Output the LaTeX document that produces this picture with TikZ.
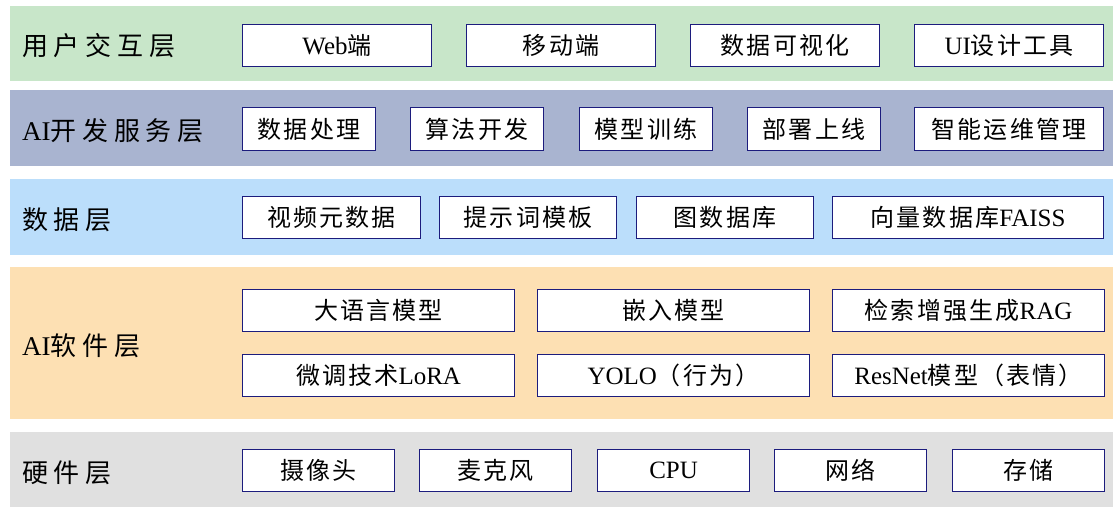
\documentclass[tikz,border=0pt]{standalone}
\usepackage{fontspec}
\setmainfont{Liberation Serif}[Scale=1.04]
\newfontfamily\cjkbox[LetterSpace=9]{Noto Sans CJK SC}
\newfontfamily\cjklab[LetterSpace=22]{Noto Sans CJK SC}
\definecolor{bandA}{RGB}{200,230,201}
\definecolor{bandB}{RGB}{169,180,208}
\definecolor{bandC}{RGB}{187,222,251}
\definecolor{bandD}{RGB}{253,224,179}
\definecolor{bandE}{RGB}{224,224,224}
\definecolor{boxline}{RGB}{28,28,125}
\newcommand{\zh}[1]{{\cjkbox #1}}
\newcommand{\zl}[1]{{\cjklab #1}}
\tikzset{
  band/.style={anchor=north west, inner sep=0pt, minimum width=1103pt, draw=none},
  layer/.style={anchor=west, inner sep=0pt, font=\fontsize{26}{30}\selectfont},
  item/.style={anchor=north west, draw=boxline, line width=1.1pt, fill=white,
    inner sep=0pt, minimum height=42pt, font=\fontsize{24}{28}\selectfont},
}
\begin{document}
\begin{tikzpicture}[x=1pt,y=-1pt]
\useasboundingbox[fill=white] (0,0) rectangle (1113,516);
% layer bands
\node[band, fill=bandA, minimum height=74.5pt] (bandUI)  at (10,6) {};
\node[band, fill=bandB, minimum height=75.5pt] (bandSvc) at (10,90) {};
\node[band, fill=bandC, minimum height=75.5pt] (bandDat) at (10,179) {};
\node[band, fill=bandD, minimum height=151.5pt] (bandSW) at (10,267) {};
\node[band, fill=bandE, minimum height=75pt] (bandHW)  at (10,432) {};
% layer titles
\node[layer] (labUI)  at (22,46)  {\zl{用户交互层}};
\node[layer] (labSvc) at (22,131) {AI\zl{开发服务层}};
\node[layer] (labDat) at (22,220) {\zl{数据层}};
\node[layer] (labSW)  at (22,346) {AI\zl{软件层}};
\node[layer] (labHW)  at (22,473) {\zl{硬件层}};
% user interaction layer
\node[item, minimum width=189pt] (web) at (242,24) {Web\zh{端}};
\node[item, minimum width=189pt] (mob) at (466,24) {\zh{移动端}};
\node[item, minimum width=189pt] (vis) at (690,24) {\zh{数据可视化}};
\node[item, minimum width=189pt] (uit) at (914,24) {UI\zh{设计工具}};
% AI development service layer
\node[item, minimum width=133pt, minimum height=43pt] (proc) at (242,107) {\zh{数据处理}};
\node[item, minimum width=133pt, minimum height=43pt] (algo) at (410,107) {\zh{算法开发}};
\node[item, minimum width=133pt, minimum height=43pt] (train) at (579,107) {\zh{模型训练}};
\node[item, minimum width=133pt, minimum height=43pt] (deploy) at (747,107) {\zh{部署上线}};
\node[item, minimum width=189pt, minimum height=43pt] (ops) at (914,107) {\zh{智能运维管理}};
% data layer
\node[item, minimum width=178pt] (meta) at (242,196) {\zh{视频元数据}};
\node[item, minimum width=177pt] (prompt) at (439,196) {\zh{提示词模板}};
\node[item, minimum width=177pt] (graph) at (636,196) {\zh{图数据库}};
\node[item, minimum width=271pt] (vec) at (832,196) {\zh{向量数据库}FAISS};
% AI software layer
\node[item, minimum width=272pt] (llm) at (242,289) {\zh{大语言模型}};
\node[item, minimum width=272pt] (emb) at (537,289) {\zh{嵌入模型}};
\node[item, minimum width=272pt] (rag) at (832,289) {\zh{检索增强生成}RAG};
\node[item, minimum width=272pt] (lora) at (242,354) {\zh{微调技术}LoRA};
\node[item, minimum width=272pt] (yolo) at (537,354) {YOLO\zh{（行为）}};
\node[item, minimum width=272pt] (resnet) at (832,354) {ResNet\zh{模型（表情）}};
% hardware layer
\node[item, minimum width=152pt] (cam) at (242,449) {\zh{摄像头}};
\node[item, minimum width=152pt] (mic) at (419,449) {\zh{麦克风}};
\node[item, minimum width=152pt] (cpu) at (597,449) {CPU};
\node[item, minimum width=152pt] (net) at (774,449) {\zh{网络}};
\node[item, minimum width=152pt] (sto) at (952,449) {\zh{存储}};
\end{tikzpicture}
\end{document}
